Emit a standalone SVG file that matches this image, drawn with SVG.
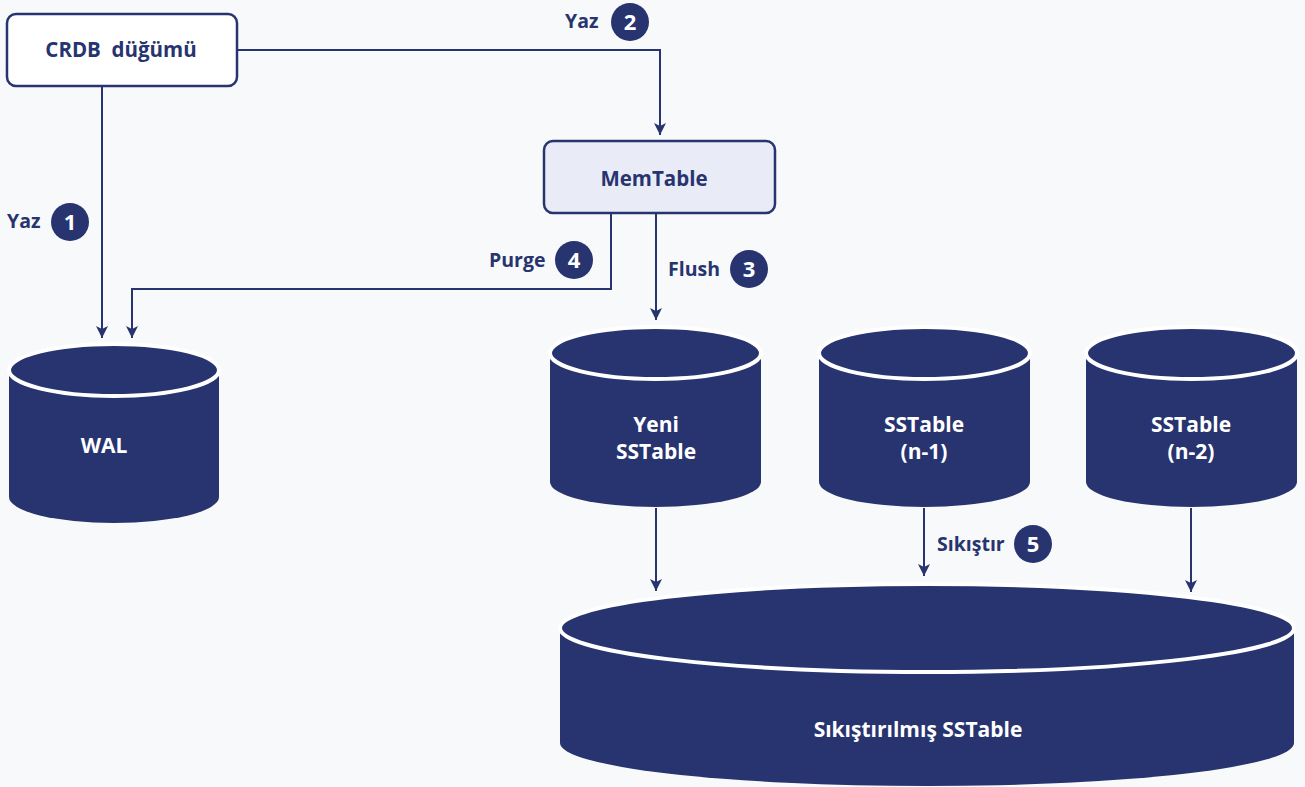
<svg xmlns="http://www.w3.org/2000/svg" width="1305" height="787" viewBox="0 0 1305 787">
  <defs>
    <marker id="arrow" markerUnits="userSpaceOnUse" markerWidth="14" markerHeight="14" refX="12" refY="6" orient="auto">
      <path d="M0,0 L12,6 L0,12 L3,6 Z" fill="#27346f"/>
    </marker>
    <style>
      .bg { fill: #f8f9fa; }
      .box { stroke: #27346f; stroke-width: 2.5; }
      .lbl { font-family: "Open Sans", "Noto Sans", sans-serif; font-weight: 700; fill: #27346f; font-size: 19.5px; }
      .boxlbl { font-size: 20.5px; }
      .wht { font-family: "Open Sans", "Noto Sans", sans-serif; font-weight: 700; fill: #ffffff; font-size: 21px; text-anchor: middle; }
      .num { font-family: "Open Sans", "Noto Sans", sans-serif; font-weight: 700; fill: #ffffff; font-size: 22px; text-anchor: middle; }
      .badge { fill: #27346f; }
      .body { fill: #27346f; }
      .lid { fill: #27346f; stroke: #ffffff; stroke-width: 4; }
      .conn { fill: none; stroke: #27346f; stroke-width: 2; marker-end: url(#arrow); }
    </style>
  </defs>

  <rect class="bg" x="0" y="0" width="1305" height="787"/>

  <!-- connectors -->
  <g id="connectors">
    <path class="conn" d="M237,50 H660 V135"/>
    <path class="conn" d="M102,86 V338"/>
    <path class="conn" d="M611,213 V289 H132 V338"/>
    <path class="conn" d="M656,213 V320"/>
    <path class="conn" d="M656,508 V591"/>
    <path class="conn" d="M924,508 V576"/>
    <path class="conn" d="M1191,508 V592"/>
  </g>

  <!-- step labels -->
  <g id="step-1">
    <text class="lbl" x="7" y="228">Yaz</text>
    <circle class="badge" cx="70" cy="222" r="19"/>
    <text class="num" x="70" y="230">1</text>
  </g>
  <g id="step-2">
    <text class="lbl" x="565" y="28">Yaz</text>
    <circle class="badge" cx="630" cy="22" r="19"/>
    <text class="num" x="630" y="30">2</text>
  </g>
  <g id="step-3">
    <text class="lbl" x="668" y="276">Flush</text>
    <circle class="badge" cx="749" cy="269" r="19"/>
    <text class="num" x="749" y="277">3</text>
  </g>
  <g id="step-4">
    <text class="lbl" x="489" y="267">Purge</text>
    <circle class="badge" cx="574" cy="260" r="19"/>
    <text class="num" x="574" y="268">4</text>
  </g>
  <g id="step-5">
    <text class="lbl" x="937" y="551">Sıkıştır</text>
    <circle class="badge" cx="1033" cy="544" r="19"/>
    <text class="num" x="1033" y="552">5</text>
  </g>

  <!-- nodes -->
  <g id="crdb-node">
    <rect class="box" x="7" y="14" width="230" height="72" rx="9" fill="#ffffff"/>
    <text class="lbl boxlbl" x="121" y="57" text-anchor="middle" xml:space="preserve">CRDB  düğümü</text>
  </g>

  <g id="memtable">
    <rect class="box" x="544" y="141" width="231" height="72" rx="9" fill="#e9ecf6"/>
    <text class="lbl boxlbl" x="654" y="186" text-anchor="middle">MemTable</text>
  </g>

  <g id="wal">
    <path class="body" d="M9,370 V497 A105,26 0 0 0 219,497 V370 Z"/>
    <ellipse class="lid" cx="114" cy="370" rx="105" ry="26"/>
    <text class="wht" x="104" y="453">WAL</text>
  </g>

  <g id="sstable-new">
    <path class="body" d="M550,353 V482 A105.5,25 0 0 0 761,482 V353 Z"/>
    <ellipse class="lid" cx="655.5" cy="353" rx="105.5" ry="26"/>
    <text class="wht" x="656" y="432">Yeni</text>
    <text class="wht" x="656" y="459">SSTable</text>
  </g>

  <g id="sstable-n1">
    <path class="body" d="M819,353 V482 A105.5,25 0 0 0 1030,482 V353 Z"/>
    <ellipse class="lid" cx="924.5" cy="353" rx="105.5" ry="26"/>
    <text class="wht" x="924" y="432">SSTable</text>
    <text class="wht" x="924" y="459">(n-1)</text>
  </g>

  <g id="sstable-n2">
    <path class="body" d="M1086,353 V482 A105.5,25 0 0 0 1297,482 V353 Z"/>
    <ellipse class="lid" cx="1191.5" cy="353" rx="105.5" ry="26"/>
    <text class="wht" x="1191" y="432">SSTable</text>
    <text class="wht" x="1191" y="459">(n-2)</text>
  </g>

  <g id="sstable-compacted">
    <path class="body" d="M560,628 V743 A367,43 0 0 0 1294,743 V628 Z"/>
    <ellipse class="lid" cx="927" cy="628" rx="367" ry="44"/>
    <text class="wht" x="918" y="737">Sıkıştırılmış SSTable</text>
  </g>
</svg>
